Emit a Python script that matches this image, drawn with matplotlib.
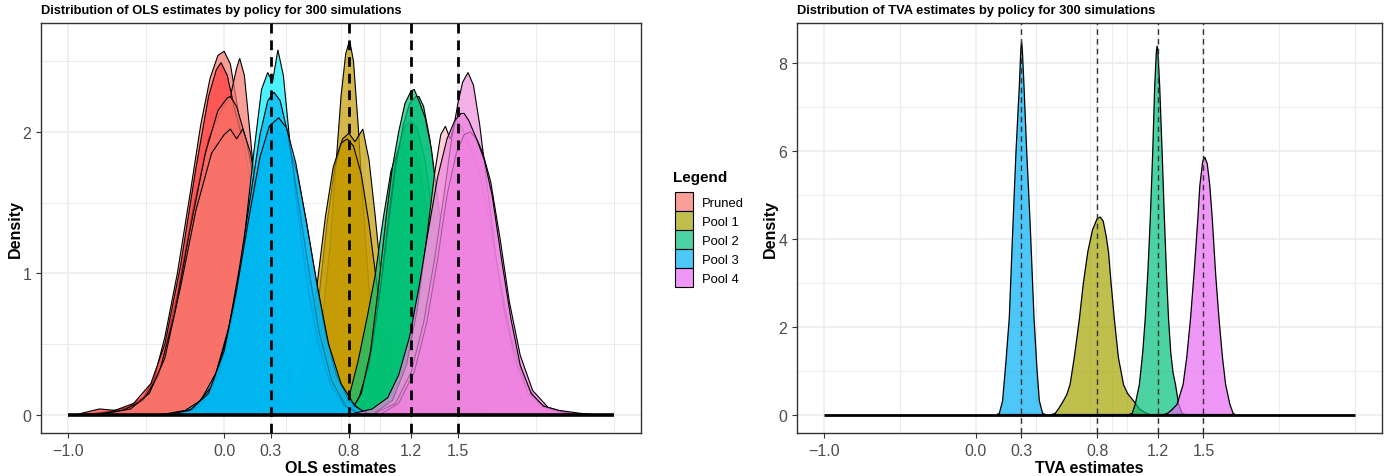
import numpy as np
import matplotlib
matplotlib.use("Agg")
import matplotlib.pyplot as plt
from matplotlib.colors import to_rgba
from matplotlib.patches import Patch

plt.rcParams['font.family'] = ['Liberation Sans', 'DejaVu Sans']

groups = ["Pruned", "Pool 1", "Pool 2", "Pool 3", "Pool 4"]
legend_colors = ["#F8766D", "#A3A500", "#00BF7D", "#00B0F6", "#E76BF3"]

x_ticks = [-1.0, 0.0, 0.3, 0.8, 1.2, 1.5]
x_minor = [-0.5, 0.4, 0.75, 0.9, 1.0, 2.0, 2.5]
true_values = [0.3, 0.8, 1.2, 1.5]
x_range = [-1.0, 2.5]

# ---- OLS densities (several simulation batches per policy)
ols_curves = [
    # Pruned
    ("#F8766D",
     [-0.90, -0.75, -0.62, -0.52, -0.45, -0.38, -0.30, -0.22, -0.15, -0.09, -0.04, 0.00, 0.04, 0.09, 0.15, 0.22, 0.30, 0.40, 0.52, 0.65],
     [0.00, 0.02, 0.05, 0.12, 0.25, 0.55, 1.00, 1.55, 2.05, 2.38, 2.54, 2.57, 2.48, 2.15, 1.60, 1.00, 0.50, 0.18, 0.04, 0.00]),
    ("#F8766D",
     [-0.80, -0.62, -0.50, -0.40, -0.30, -0.20, -0.10, -0.02, 0.04, 0.08, 0.10, 0.13, 0.17, 0.22, 0.30, 0.40, 0.52, 0.65],
     [0.00, 0.04, 0.12, 0.35, 0.85, 1.45, 1.95, 2.15, 2.25, 2.45, 2.52, 2.40, 1.95, 1.35, 0.70, 0.25, 0.05, 0.00]),
    ("#FF3A3A",
     [-0.95, -0.80, -0.70, -0.58, -0.47, -0.38, -0.28, -0.18, -0.10, -0.05, -0.02, 0.02, 0.07, 0.13, 0.20, 0.28, 0.38, 0.50, 0.62],
     [0.00, 0.04, 0.03, 0.08, 0.22, 0.50, 1.05, 1.75, 2.25, 2.44, 2.49, 2.40, 2.15, 1.90, 1.45, 0.85, 0.30, 0.06, 0.00]),
    ("#F8766D",
     [-0.85, -0.65, -0.52, -0.42, -0.32, -0.22, -0.12, -0.04, 0.02, 0.04, 0.08, 0.14, 0.20, 0.28, 0.36, 0.46, 0.58, 0.70],
     [0.00, 0.03, 0.10, 0.28, 0.70, 1.30, 1.85, 2.15, 2.24, 2.25, 2.18, 1.95, 1.60, 1.05, 0.55, 0.18, 0.03, 0.00]),
    ("#F8766D",
     [-0.80, -0.60, -0.48, -0.38, -0.28, -0.18, -0.08, 0.00, 0.04, 0.08, 0.12, 0.17, 0.24, 0.32, 0.42, 0.55, 0.68],
     [0.00, 0.04, 0.15, 0.40, 0.90, 1.45, 1.85, 1.98, 2.02, 1.95, 2.02, 1.85, 1.35, 0.75, 0.25, 0.04, 0.00]),
    # Pool 1
    ("#C49A00",
     [0.45, 0.55, 0.62, 0.68, 0.72, 0.75, 0.78, 0.80, 0.81, 0.83, 0.86, 0.89, 0.93, 0.98, 1.04, 1.12, 1.20],
     [0.00, 0.15, 0.55, 1.20, 1.80, 2.25, 2.55, 2.63, 2.62, 2.50, 2.05, 1.50, 0.90, 0.45, 0.18, 0.04, 0.00]),
    ("#C49A00",
     [0.40, 0.50, 0.56, 0.61, 0.66, 0.71, 0.76, 0.80, 0.84, 0.89, 0.93, 0.97, 1.01, 1.06, 1.12, 1.20, 1.30],
     [0.00, 0.15, 0.42, 0.85, 1.35, 1.75, 1.95, 1.99, 1.93, 2.02, 1.80, 1.40, 0.95, 0.50, 0.20, 0.05, 0.00]),
    ("#C49A00",
     [0.38, 0.48, 0.55, 0.60, 0.65, 0.70, 0.75, 0.79, 0.83, 0.88, 0.93, 0.98, 1.03, 1.09, 1.16, 1.25],
     [0.00, 0.18, 0.55, 0.95, 1.40, 1.75, 1.92, 1.95, 1.90, 1.70, 1.35, 0.92, 0.52, 0.22, 0.05, 0.00]),
    # Pool 2
    ("#00C078",
     [0.72, 0.80, 0.86, 0.92, 0.97, 1.02, 1.07, 1.12, 1.16, 1.19, 1.23, 1.28, 1.34, 1.41, 1.49, 1.58, 1.68],
     [0.00, 0.12, 0.38, 0.70, 0.99, 1.38, 1.72, 1.88, 1.93, 1.93, 1.85, 1.60, 1.15, 0.65, 0.28, 0.07, 0.00]),
    ("#22DD44",
     [0.80, 0.88, 0.95, 1.01, 1.06, 1.11, 1.16, 1.20, 1.24, 1.29, 1.34, 1.40, 1.47, 1.55, 1.65],
     [0.00, 0.14, 0.48, 0.95, 1.45, 1.85, 2.04, 2.08, 2.02, 1.80, 1.40, 0.88, 0.40, 0.10, 0.00]),
    ("#00C078",
     [0.78, 0.86, 0.93, 0.99, 1.05, 1.10, 1.15, 1.19, 1.23, 1.25, 1.28, 1.32, 1.37, 1.43, 1.50, 1.58, 1.68],
     [0.00, 0.10, 0.35, 0.78, 1.30, 1.75, 2.05, 2.20, 2.25, 2.25, 2.18, 1.95, 1.50, 0.92, 0.42, 0.12, 0.00]),
    ("#00C078",
     [0.80, 0.88, 0.94, 0.99, 1.04, 1.08, 1.12, 1.16, 1.20, 1.22, 1.25, 1.29, 1.33, 1.38, 1.44, 1.51, 1.60, 1.70],
     [0.00, 0.15, 0.45, 0.90, 1.40, 1.75, 2.00, 2.20, 2.29, 2.30, 2.22, 2.10, 1.88, 1.45, 0.90, 0.40, 0.10, 0.00]),
    # Pool 3
    ("#00B4F0",
     [-0.40, -0.25, -0.15, -0.05, 0.03, 0.10, 0.17, 0.23, 0.29, 0.34, 0.37, 0.41, 0.47, 0.53, 0.59, 0.65, 0.72, 0.80, 0.88, 0.95],
     [0.00, 0.03, 0.10, 0.30, 0.62, 1.00, 1.42, 1.75, 1.93, 1.99, 1.99, 1.92, 1.70, 1.35, 0.95, 0.58, 0.28, 0.10, 0.03, 0.00]),
    ("#00EEFF",
     [-0.30, -0.15, -0.03, 0.06, 0.13, 0.19, 0.24, 0.28, 0.31, 0.345, 0.38, 0.42, 0.47, 0.53, 0.60, 0.68, 0.77, 0.87],
     [0.00, 0.06, 0.30, 0.72, 1.25, 1.85, 2.30, 2.42, 2.35, 2.58, 2.40, 1.95, 1.45, 0.95, 0.52, 0.22, 0.06, 0.00]),
    ("#00B4F0",
     [-0.35, -0.20, -0.08, 0.02, 0.10, 0.17, 0.23, 0.28, 0.32, 0.36, 0.41, 0.47, 0.54, 0.61, 0.69, 0.78, 0.88],
     [0.00, 0.04, 0.20, 0.55, 1.05, 1.55, 1.98, 2.22, 2.28, 2.22, 1.98, 1.55, 1.05, 0.58, 0.24, 0.06, 0.00]),
    ("#00B4F0",
     [-0.38, -0.22, -0.10, 0.00, 0.08, 0.16, 0.23, 0.29, 0.35, 0.40, 0.46, 0.53, 0.60, 0.67, 0.75, 0.84, 0.93],
     [0.00, 0.03, 0.15, 0.45, 0.88, 1.40, 1.82, 2.04, 2.10, 2.03, 1.78, 1.35, 0.90, 0.50, 0.22, 0.06, 0.00]),
    # Pool 4
    ("#FFBDC8",
     [0.95, 1.08, 1.17, 1.24, 1.30, 1.35, 1.39, 1.42, 1.45, 1.49, 1.53, 1.58, 1.63, 1.69, 1.76, 1.84, 1.93, 2.03, 2.15, 2.30],
     [0.00, 0.10, 0.35, 0.75, 1.25, 1.70, 1.98, 2.04, 1.95, 2.09, 2.02, 1.88, 1.75, 1.45, 1.00, 0.55, 0.22, 0.07, 0.02, 0.00]),
    ("#ED8FDC",
     [0.95, 1.10, 1.20, 1.28, 1.35, 1.41, 1.46, 1.50, 1.53, 1.565, 1.60, 1.64, 1.69, 1.74, 1.80, 1.87, 1.95, 2.05, 2.18, 2.30],
     [0.00, 0.08, 0.30, 0.65, 1.10, 1.55, 1.95, 2.20, 2.35, 2.42, 2.33, 2.05, 1.60, 1.15, 0.72, 0.38, 0.15, 0.05, 0.01, 0.00]),
    ("#EE82E0",
     [1.00, 1.12, 1.22, 1.30, 1.37, 1.43, 1.49, 1.54, 1.58, 1.62, 1.66, 1.71, 1.77, 1.83, 1.90, 1.98, 2.08, 2.20, 2.32],
     [0.00, 0.08, 0.30, 0.65, 1.10, 1.55, 1.85, 1.98, 2.00, 1.95, 1.85, 1.65, 1.25, 0.80, 0.42, 0.17, 0.05, 0.01, 0.00]),
    ("#EE82E0",
     [0.80, 0.95, 1.05, 1.12, 1.19, 1.25, 1.31, 1.37, 1.43, 1.48, 1.52, 1.54, 1.57, 1.62, 1.67, 1.72, 1.78, 1.84, 1.90, 1.97, 2.05, 2.15, 2.28, 2.38],
     [0.00, 0.04, 0.12, 0.28, 0.55, 0.90, 1.30, 1.68, 1.95, 2.08, 2.13, 2.13, 2.08, 1.95, 1.80, 1.55, 1.10, 0.68, 0.35, 0.15, 0.06, 0.03, 0.01, 0.00]),
]

# ---- TVA densities, one per pool
tva_x = {
    "Pool 1": [0.50, 0.523, 0.55, 0.578, 0.60, 0.622, 0.65, 0.684, 0.71, 0.739, 0.77, 0.80, 0.82, 0.84, 0.86, 0.875, 0.893, 0.913, 0.94, 0.974, 1.00, 1.04, 1.08, 1.128, 1.15],
    "Pool 2": [1.01, 1.03, 1.051, 1.078, 1.10, 1.117, 1.135, 1.15, 1.166, 1.179, 1.19, 1.195, 1.20, 1.212, 1.228, 1.243, 1.258, 1.27, 1.285, 1.30, 1.316, 1.337, 1.36, 1.38],
    "Pool 3": [0.14, 0.156, 0.178, 0.20, 0.222, 0.245, 0.266, 0.288, 0.298, 0.303, 0.308, 0.319, 0.337, 0.358, 0.385, 0.405, 0.42, 0.442, 0.46],
    "Pool 4": [1.24, 1.26, 1.29, 1.326, 1.366, 1.39, 1.415, 1.44, 1.463, 1.476, 1.495, 1.509, 1.525, 1.542, 1.558, 1.58, 1.602, 1.625, 1.646, 1.674, 1.696, 1.71],
}
tva_y = {
    "Pool 1": [0.00, 0.02, 0.15, 0.31, 0.45, 0.68, 1.30, 2.19, 3.00, 3.70, 4.20, 4.45, 4.49, 4.40, 4.05, 3.70, 2.95, 2.19, 1.30, 0.68, 0.48, 0.31, 0.12, 0.02, 0.00],
    "Pool 2": [0.00, 0.02, 0.23, 0.68, 1.40, 2.19, 3.30, 4.45, 5.96, 7.46, 8.25, 8.38, 8.25, 7.46, 5.96, 4.45, 3.10, 2.19, 1.40, 0.95, 0.68, 0.23, 0.02, 0.00],
    "Pool 3": [0.00, 0.02, 0.31, 1.20, 2.19, 4.20, 5.96, 7.46, 8.30, 8.48, 8.30, 7.46, 5.96, 4.45, 2.19, 1.00, 0.31, 0.02, 0.00],
    "Pool 4": [0.00, 0.02, 0.10, 0.23, 0.68, 1.30, 2.19, 3.30, 4.45, 5.20, 5.75, 5.85, 5.70, 5.20, 4.45, 3.20, 2.19, 1.30, 0.68, 0.23, 0.02, 0.00],
}

W, H = 1389, 477
fig = plt.figure(figsize=(W / 100, H / 100), dpi=100)
ax1 = fig.add_axes([41 / W, 1 - 434 / H, 600 / W, 410 / H])
ax2 = fig.add_axes([797 / W, 1 - 434 / H, 585 / W, 410 / H])


def style(ax, yticks, yminor, ylim):
    ax.set_xlim(-1.175, 2.675)
    ax.set_ylim(*ylim)
    for v in x_ticks + x_minor:
        ax.axvline(v, color="#EBEBEB", lw=1.1 if v in x_ticks else 0.7, zorder=0)
    for v in yticks:
        ax.axhline(v, color="#EBEBEB", lw=1.1, zorder=0)
    for v in yminor:
        ax.axhline(v, color="#EBEBEB", lw=0.7, zorder=0)
    ax.set_xticks(x_ticks)
    ax.set_xticklabels(["\u22121.0", "0.0", "0.3", "0.8", "1.2", "1.5"])
    ax.set_yticks(yticks)
    ax.tick_params(labelsize=11.5, colors="#333333", labelcolor="#4D4D4D", length=3.5, width=0.8)
    for s in ax.spines.values():
        s.set_color("#333333")
        s.set_linewidth(1.0)


style(ax1, [0, 1, 2], [0.5, 1.5, 2.5], (-0.13, 2.77))
style(ax2, [0, 2, 4, 6, 8], [1, 3, 5, 7], (-0.42, 8.9))

for col, xs, ys in ols_curves:
    ax1.fill(xs, ys, facecolor=to_rgba(col, 0.7), edgecolor="black", lw=0.8, zorder=2)
ax1.plot(x_range, [0, 0], color="black", lw=2.6, zorder=3, solid_capstyle="butt")
for v in true_values:
    ax1.axvline(v, color="black", lw=2.0, ls=(0, (3.5, 2.5)), zorder=4)

for g, col in zip(groups, legend_colors):
    if g in tva_x:
        ax2.fill(tva_x[g], tva_y[g], facecolor=to_rgba(col, 0.7), edgecolor="black", lw=0.9, zorder=2)
ax2.plot(x_range, [0, 0], color="black", lw=2.0, zorder=3, solid_capstyle="butt")
for v in true_values:
    ax2.axvline(v, color="#333333", lw=1.0, ls=(0, (4, 3)), zorder=4)

ax1.set_xlabel("OLS estimates", fontsize=11.5, fontweight="bold", labelpad=2)
ax1.set_ylabel("Density", fontsize=11.5, fontweight="bold", labelpad=0)
ax2.set_xlabel("TVA estimates", fontsize=11.5, fontweight="bold", labelpad=2)
ax2.set_ylabel("Density", fontsize=11.5, fontweight="bold", labelpad=0)

fig.text(41 / W, 1 - 11 / H, "Distribution of OLS estimates by policy for 300 simulations",
         fontsize=9.3, fontweight="bold", va="center", ha="left")
fig.text(797 / W, 1 - 11 / H, "Distribution of TVA estimates by policy for 300 simulations",
         fontsize=9.3, fontweight="bold", va="center", ha="left")

fig.text(673 / W, 1 - 178 / H, "Legend", fontsize=11, fontweight="bold", va="center", ha="left")
handles = [Patch(facecolor=to_rgba(c, 0.7), edgecolor="black", lw=0.8) for c in legend_colors]
leg = fig.legend(handles, groups, loc="upper left", bbox_to_anchor=(675 / W, 1 - 193 / H),
                 frameon=False, fontsize=9.4,
                 handlelength=1.35, handleheight=1.86, labelspacing=0.0,
                 handletextpad=0.69, borderpad=0.0, borderaxespad=0.0)

fig.savefig("out.png", dpi=100)
